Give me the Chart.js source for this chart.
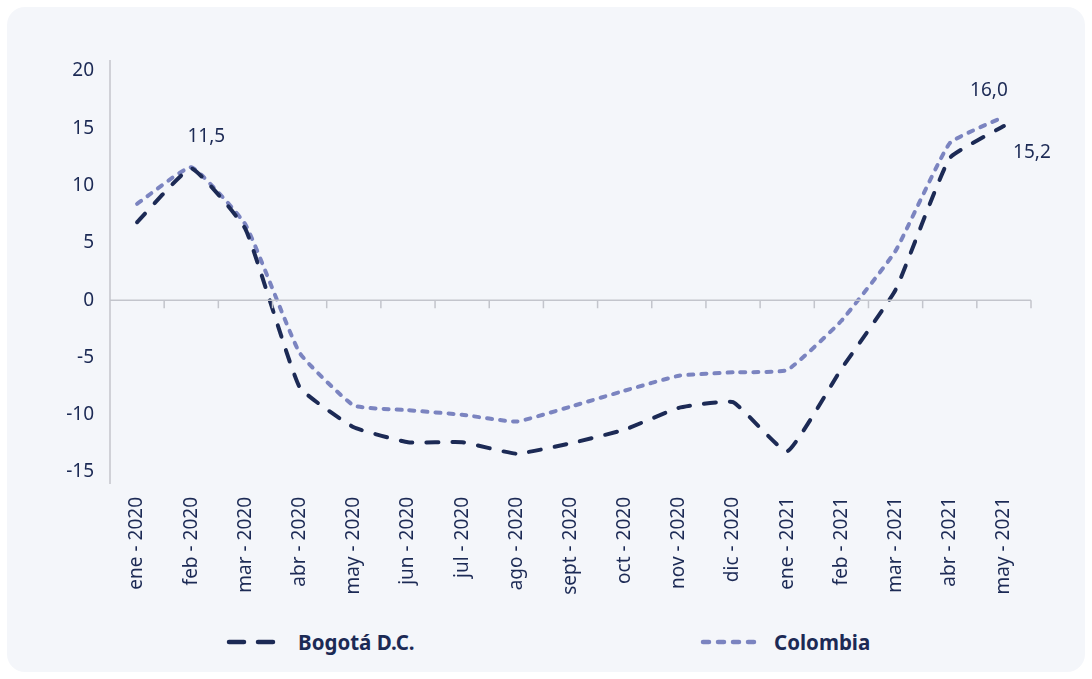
<!DOCTYPE html>
<html>
<head>
<meta charset="utf-8">
<script src="https://cdn.jsdelivr.net/npm/chart.js@4.4.0/dist/chart.umd.min.js"></script>
<style>
  body { margin: 0; background: #ffffff; font-family: "Noto Sans", sans-serif; }
  .card {
    position: absolute; left: 7px; top: 7px; width: 1078px; height: 665px;
    background: #f4f6fa; border-radius: 18px;
  }
  .wrap { position: absolute; left: 0; top: 0; width: 1092px; height: 600px; }
  .legend-item {
    position: absolute; top: 628px; height: 28px; display: flex; align-items: center;
    font-weight: bold; font-size: 20.5px; color: #1c2a55;
  }
  .legend-item svg { margin-right: 14px; }
</style>
</head>
<body>
<div class="card"></div>
<div class="wrap"><canvas id="chart"></canvas></div>
<div class="legend-item" style="left:226px">
  <svg width="58" height="10"><line x1="3" y1="5" x2="56" y2="5" stroke="#1c2a55" stroke-width="4.5" stroke-linecap="round" stroke-dasharray="15 14"/></svg>Bogotá D.C.
</div>
<div class="legend-item" style="left:700px">
  <svg width="60" height="10"><line x1="3" y1="5" x2="57" y2="5" stroke="#7b84c0" stroke-width="4.5" stroke-linecap="round" stroke-dasharray="6 9"/></svg>Colombia
</div>
<script>
// ===============================
// DATOS
// ===============================
const meses = [
  'ene - 2020', 'feb - 2020', 'mar - 2020', 'abr - 2020', 'may - 2020', 'jun - 2020',
  'jul - 2020', 'ago - 2020', 'sept - 2020', 'oct - 2020', 'nov - 2020', 'dic - 2020',
  'ene - 2021', 'feb - 2021', 'mar - 2021', 'abr - 2021', 'may - 2021'
];
const bogota = [6.8, 11.5, 6.2, -7.6, -11.1, -12.4, -12.4, -13.4, -12.5, -11.3, -9.4, -8.9, -13.2, -6.0, 0.9, 12.4, 15.2];
const colombia = [8.4, 11.6, 6.6, -4.6, -9.2, -9.6, -10.0, -10.6, -9.3, -7.9, -6.6, -6.3, -6.1, -1.8, 4.3, 13.7, 16.0];
const yTicks = [-15, -10, -5, 0, 5, 10, 15, 20];

// etiquetas de valor: [serie, índice, texto, dx, dy]
const etiquetas = [
  [0, 1, '11,5', 15, -32],
  [1, 16, '16,0', -15, -26],
  [0, 16, '15,2', 28, 27]
];

const navy = '#1c2a55';
const lila = '#7b84c0';
const ejeColor = '#c3c5cc';
const fuente = '"Noto Sans", sans-serif';

// ejes en cero + etiquetas de valor
const ejesPlugin = {
  id: 'ejes',
  afterDatasetsDraw(chart) {
    const ctx = chart.ctx;
    const x = chart.scales.x;
    const y = chart.scales.y;
    const area = chart.chartArea;
    const y0 = y.getPixelForValue(0);
    const step = x.getPixelForValue(1) - x.getPixelForValue(0);

    ctx.save();
    ctx.strokeStyle = ejeColor;
    ctx.lineWidth = 1.5;
    ctx.beginPath();
    ctx.moveTo(area.left, area.top - 11);
    ctx.lineTo(area.left, area.bottom + 12);
    ctx.moveTo(area.left, y0);
    ctx.lineTo(area.right, y0);
    for (let i = 0; i <= meses.length; i++) {
      const px = x.getPixelForValue(0) - step / 2 + step * i;
      ctx.moveTo(px, y0);
      ctx.lineTo(px, y0 + 8);
    }
    ctx.stroke();

    ctx.fillStyle = navy;
    ctx.font = '19px ' + fuente;
    ctx.textAlign = 'center';
    ctx.textBaseline = 'middle';
    etiquetas.forEach(e => {
      const pt = chart.getDatasetMeta(e[0]).data[e[1]];
      ctx.fillText(e[2], pt.x + e[3], pt.y + e[4]);
    });
    ctx.restore();
  }
};

const ctx = document.getElementById('chart').getContext('2d');
new Chart(ctx, {
  type: 'line',
  data: {
    labels: meses,
    datasets: [
      {
        label: 'Bogotá D.C.',
        data: bogota,
        borderColor: navy,
        borderWidth: 4,
        borderDash: [12, 14],
        borderCapStyle: 'round',
        pointRadius: 0,
        tension: 0.12
      },
      {
        label: 'Colombia',
        data: colombia,
        borderColor: lila,
        borderWidth: 4,
        borderDash: [5, 8],
        borderCapStyle: 'round',
        pointRadius: 0,
        tension: 0.12
      }
    ]
  },
  options: {
    responsive: true,
    maintainAspectRatio: false,
    animation: false,
    layout: { padding: { left: 0, right: 61, top: 71, bottom: 0 } },
    plugins: { legend: { display: false }, tooltip: { enabled: false } },
    scales: {
      x: {
        offset: true,
        grid: { display: false, drawTicks: false },
        border: { display: false },
        ticks: {
          color: navy,
          font: { size: 19, family: fuente },
          minRotation: 90,
          maxRotation: 90,
          padding: 25,
          autoSkip: false
        },
        afterFit: s => { s.height = 128; }
      },
      y: {
        min: -15,
        max: 20,
        afterBuildTicks: s => { s.ticks = yTicks.map(v => ({ value: v })); },
        grid: { display: false, drawTicks: false },
        border: { display: false },
        ticks: {
          color: navy,
          font: { size: 19, family: fuente },
          padding: 16
        },
        afterFit: s => { s.width = 110; }
      }
    }
  },
  plugins: [ejesPlugin]
});
</script>
</body>
</html>
